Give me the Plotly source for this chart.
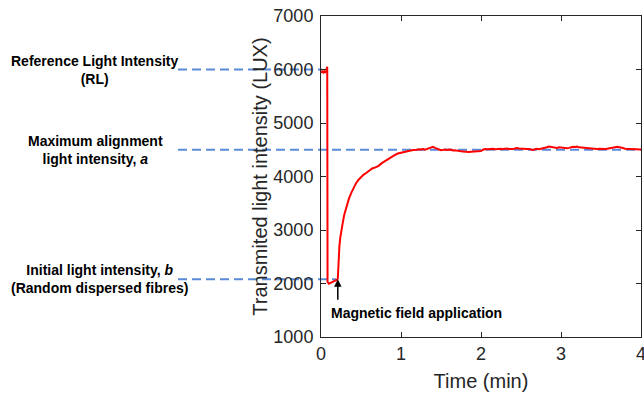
import plotly.graph_objects as go

# ---- data ----
rise_time = [0.0, 0.01, 0.02, 0.03, 0.04, 0.05, 0.06, 0.065, 0.07, 0.075, 0.078, 0.082,
             0.09, 0.1, 0.12, 0.14, 0.16, 0.18, 0.2, 0.21, 0.215, 0.22, 0.23, 0.24, 0.25,
             0.27, 0.29, 0.31, 0.33, 0.35, 0.38, 0.41, 0.44, 0.47, 0.5, 0.53, 0.56, 0.6,
             0.64, 0.68, 0.72, 0.76, 0.8, 0.84, 0.88, 0.92, 0.96, 1.0, 1.05, 1.1, 1.15]
rise_value = [5960, 5950, 5975, 5945, 5965, 5940, 5970, 5955, 6000, 6050, 6040, 2030,
              2000, 1995, 2010, 2025, 2040, 2050, 2070, 2090, 2300, 2500, 2700, 2850, 2960,
              3120, 3280, 3400, 3500, 3590, 3700, 3800, 3880, 3940, 3990, 4030, 4060, 4110,
              4150, 4170, 4200, 4250, 4290, 4330, 4370, 4400, 4430, 4445, 4460, 4480, 4495]

plateau_time = [1.2, 1.225, 1.25, 1.275, 1.3, 1.325, 1.35, 1.375, 1.4, 1.425, 1.45, 1.475,
                1.5, 1.525, 1.55, 1.575, 1.6, 1.625, 1.65, 1.675, 1.7, 1.725, 1.75, 1.775,
                1.8, 1.825, 1.85, 1.875, 1.9, 1.925, 1.95, 1.975, 2.0, 2.025, 2.05, 2.075,
                2.1, 2.125, 2.15, 2.175, 2.2, 2.225, 2.25, 2.275, 2.3, 2.325, 2.35, 2.375,
                2.4, 2.425, 2.45, 2.475, 2.5, 2.525, 2.55, 2.575, 2.6, 2.625, 2.65, 2.675,
                2.7, 2.725, 2.75, 2.775, 2.8, 2.825, 2.85, 2.875, 2.9, 2.925, 2.95, 2.975,
                3.0, 3.025, 3.05, 3.075, 3.1, 3.125, 3.15, 3.175, 3.2, 3.225, 3.25, 3.275,
                3.3, 3.325, 3.35, 3.375, 3.4, 3.425, 3.45, 3.475, 3.5, 3.525, 3.55, 3.575,
                3.6, 3.625, 3.65, 3.675, 3.7, 3.725, 3.75, 3.775, 3.8, 3.825, 3.85, 3.875,
                3.9, 3.925, 3.95, 3.975, 4.0]
plateau_value = [4500, 4510, 4505, 4515, 4500, 4512, 4520, 4530, 4555, 4535, 4520, 4500,
                 4490, 4498, 4505, 4495, 4505, 4500, 4488, 4492, 4480, 4475, 4470, 4468,
                 4462, 4465, 4458, 4463, 4465, 4455, 4458, 4462, 4475, 4500, 4512, 4508,
                 4515, 4522, 4518, 4510, 4512, 4525, 4520, 4512, 4518, 4522, 4515, 4508,
                 4512, 4525, 4532, 4522, 4518, 4510, 4505, 4515, 4512, 4502, 4498, 4510,
                 4520, 4512, 4518, 4525, 4530, 4548, 4560, 4552, 4548, 4540, 4535, 4545,
                 4540, 4548, 4542, 4530, 4535, 4548, 4555, 4552, 4558, 4545, 4540, 4535,
                 4538, 4528, 4532, 4525, 4522, 4518, 4512, 4520, 4518, 4510, 4512, 4520,
                 4530, 4535, 4542, 4548, 4555, 4550, 4545, 4532, 4520, 4518, 4512, 4508,
                 4505, 4498, 4502, 4498, 4505]

ref_levels = [6000, 4500, 2080]
x_ticks = [0, 1, 2, 3, 4]
y_ticks = [1000, 2000, 3000, 4000, 5000, 6000, 7000]
event_time = 0.21
event_value = 2080

time_min = rise_time + plateau_time
intensity = rise_value + plateau_value

W, H = 644, 395
ML, MR, MT, MB = 321, 3, 16, 58
PW = W - ML - MR


def px(xpix):
    return (xpix - ML) / PW


FONT = "Arial, Liberation Sans, sans-serif"
BLUE = "#5B8AD6"
TXT = "#262626"

fig = go.Figure()
fig.add_trace(go.Scatter(x=time_min, y=intensity, mode="lines",
                         line=dict(color="#FF0000", width=2), showlegend=False))

# dashed reference lines
line_ends = [322, 641, 336]
for lvl, xe in zip(ref_levels, line_ends):
    fig.add_shape(type="line", xref="paper", yref="y", x0=px(178), x1=px(xe), y0=lvl, y1=lvl,
                  line=dict(color=BLUE, width=2, dash="9px,5px"), layer="below")

labels = [
    ("Reference Light Intensity<br>(RL)", 94, 6000),
    ("Maximum alignment<br>light intensity, <i>a</i>", 95, 4500),
    ("Initial light intensity, <i>b</i><br>(Random dispersed fibres)", 99, 2080),
]
for txt, xc, lvl in labels:
    fig.add_annotation(xref="paper", yref="y", x=px(xc), y=lvl, text="<b>" + txt + "</b>",
                       showarrow=False, align="center", xanchor="center", yanchor="middle",
                       font=dict(family=FONT, size=14, color="black"))

# arrow
fig.add_annotation(x=event_time, y=event_value, xref="x", yref="y", text="", showarrow=True,
                   ax=0, ay=22, arrowhead=2, arrowsize=1, arrowwidth=1.5, arrowcolor="black",
                   standoff=0)
fig.add_annotation(xref="paper", yref="paper", x=px(329), y=1 - (312.5 - MT) / (H - MT - MB),
                   text="<b>Magnetic field application</b>", showarrow=False, xanchor="left",
                   yanchor="middle", font=dict(family=FONT, size=14, color="black"))

axis_common = dict(showline=True, linecolor=TXT, linewidth=1, mirror="allticks", ticks="inside",
                   ticklen=5, tickcolor=TXT, showgrid=False, zeroline=False,
                   ticklabeloverflow="allow",
                   tickfont=dict(family=FONT, size=18, color=TXT))

fig.update_xaxes(range=[0, 4], tickvals=x_ticks, ticktext=[str(v) for v in x_ticks],
                 title=dict(text="Time (min)", font=dict(family=FONT, size=20, color=TXT), standoff=11),
                 **axis_common)
fig.update_yaxes(range=[1000, 7000], tickvals=y_ticks, ticktext=[str(v) for v in y_ticks],
                 title=dict(text="Transmited light intensity (LUX)",
                            font=dict(family=FONT, size=20, color=TXT), standoff=0),
                 ticklabelstandoff=3, **axis_common)

fig.update_layout(width=W, height=H, margin=dict(l=ML, r=MR, t=MT, b=MB, autoexpand=False),
                  plot_bgcolor="white", paper_bgcolor="white", font=dict(family=FONT))

fig.write_html("out.html")
